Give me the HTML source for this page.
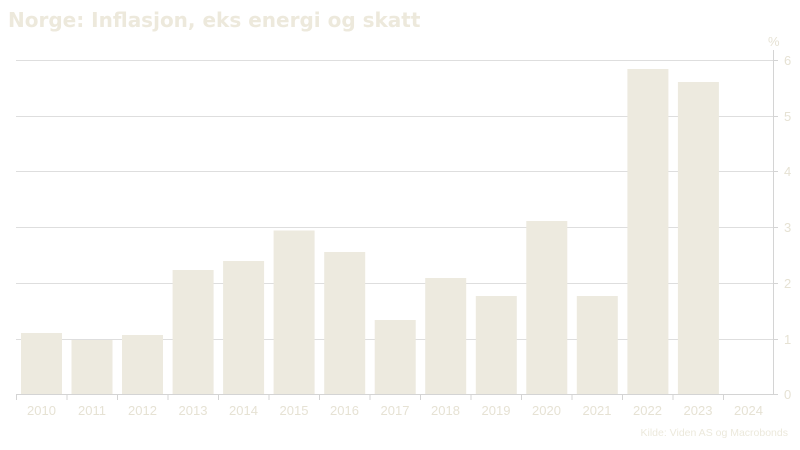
<!DOCTYPE html>
<html><head><meta charset="utf-8"><style>
html,body{margin:0;padding:0;background:#fff;width:800px;height:450px;overflow:hidden}
</style></head><body>
<svg width="800" height="450" xmlns="http://www.w3.org/2000/svg" font-family="Liberation Sans, Arial, sans-serif">
<text x="8" y="27" font-family="DejaVu Sans, Verdana, sans-serif" font-weight="bold" font-size="20" fill="#ede9dc">Norge: Inflasjon, eks energi og skatt</text>
<g stroke="#dedede" stroke-width="1">
<line x1="16" y1="60.5" x2="773" y2="60.5"/>
<line x1="16" y1="116.5" x2="773" y2="116.5"/>
<line x1="16" y1="171.5" x2="773" y2="171.5"/>
<line x1="16" y1="227.5" x2="773" y2="227.5"/>
<line x1="16" y1="283.5" x2="773" y2="283.5"/>
<line x1="16" y1="339.5" x2="773" y2="339.5"/>
</g>
<g fill="#edeadf">
<rect x="21" y="333" width="41" height="61"/>
<rect x="71.5" y="340" width="41" height="54"/>
<rect x="122" y="335" width="41" height="59"/>
<rect x="172.6" y="270" width="41" height="124"/>
<rect x="223.1" y="261" width="41" height="133"/>
<rect x="273.6" y="230.5" width="41" height="163.5"/>
<rect x="324.2" y="252" width="41" height="142"/>
<rect x="374.7" y="320" width="41" height="74"/>
<rect x="425.2" y="278" width="41" height="116"/>
<rect x="475.8" y="296" width="41" height="98"/>
<rect x="526.3" y="221" width="41" height="173"/>
<rect x="576.8" y="296" width="41" height="98"/>
<rect x="627.4" y="69" width="41" height="325"/>
<rect x="677.9" y="82" width="41" height="312"/>
</g>
<g stroke="#d4d4d4" stroke-width="1">
<line x1="16" y1="394.5" x2="774" y2="394.5"/>
<line x1="773.5" y1="50" x2="773.5" y2="395"/>
<line x1="773" y1="60.5" x2="778" y2="60.5"/>
<line x1="773" y1="116.5" x2="778" y2="116.5"/>
<line x1="773" y1="171.5" x2="778" y2="171.5"/>
<line x1="773" y1="227.5" x2="778" y2="227.5"/>
<line x1="773" y1="283.5" x2="778" y2="283.5"/>
<line x1="773" y1="339.5" x2="778" y2="339.5"/>
<line x1="773" y1="394.5" x2="778" y2="394.5"/>
<line x1="16.5" y1="394" x2="16.5" y2="400"/>
<line x1="67" y1="394" x2="67" y2="400"/>
<line x1="117.5" y1="394" x2="117.5" y2="400"/>
<line x1="168" y1="394" x2="168" y2="400"/>
<line x1="218.5" y1="394" x2="218.5" y2="400"/>
<line x1="269" y1="394" x2="269" y2="400"/>
<line x1="319.5" y1="394" x2="319.5" y2="400"/>
<line x1="370" y1="394" x2="370" y2="400"/>
<line x1="420.5" y1="394" x2="420.5" y2="400"/>
<line x1="471" y1="394" x2="471" y2="400"/>
<line x1="521.5" y1="394" x2="521.5" y2="400"/>
<line x1="572" y1="394" x2="572" y2="400"/>
<line x1="622.5" y1="394" x2="622.5" y2="400"/>
<line x1="673" y1="394" x2="673" y2="400"/>
<line x1="723.5" y1="394" x2="723.5" y2="400"/>
</g>
<g fill="#e6e2d4" font-size="13">
<text x="768" y="46">%</text>
<text x="784" y="65">6</text>
<text x="784" y="121">5</text>
<text x="784" y="176">4</text>
<text x="784" y="232">3</text>
<text x="784" y="288">2</text>
<text x="784" y="344">1</text>
<text x="784" y="399">0</text>
</g>
<g fill="#e6e2d4" font-size="13" text-anchor="middle">
<text x="41.5" y="415">2010</text>
<text x="92" y="415">2011</text>
<text x="142.5" y="415">2012</text>
<text x="193" y="415">2013</text>
<text x="243.5" y="415">2014</text>
<text x="294" y="415">2015</text>
<text x="344.5" y="415">2016</text>
<text x="395" y="415">2017</text>
<text x="445.5" y="415">2018</text>
<text x="496" y="415">2019</text>
<text x="546.5" y="415">2020</text>
<text x="597" y="415">2021</text>
<text x="647.5" y="415">2022</text>
<text x="698" y="415">2023</text>
<text x="748.5" y="415">2024</text>
</g>
<text x="788" y="436" text-anchor="end" font-size="10.5" fill="#ece9dc">Kilde: Viden AS og Macrobonds</text>
</svg>
</body></html>
